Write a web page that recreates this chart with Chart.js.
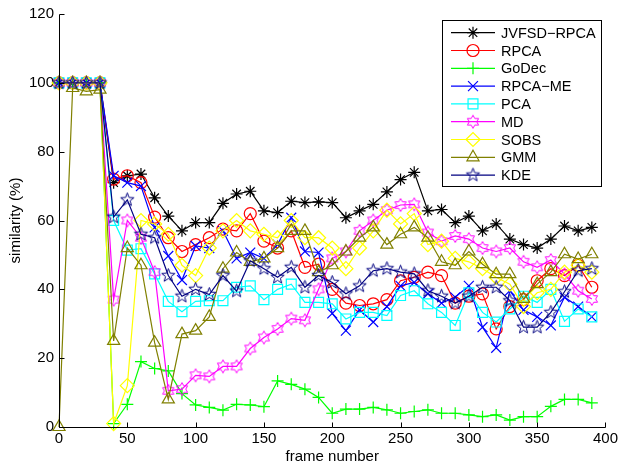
<!DOCTYPE html>
<html>
<head>
<meta charset="utf-8">
<script src="https://cdn.jsdelivr.net/npm/chart.js@4/dist/chart.umd.min.js"></script>
<style>
    body { margin: 0; background: #fff; }
    canvas { display: block; }
</style>
</head>
<body>
<canvas id="canvasSimilarita" width="621" height="466"></canvas>
<script>
const frame = [0, 10, 20, 30, 40, 50, 60, 70, 80, 90,
    100, 110, 120, 130, 140, 150, 160, 170, 180, 190,
    200, 210, 220, 230, 240, 250, 260, 270, 280, 290,
    300, 310, 320, 330, 340, 350, 360, 370, 380, 390]

const jvfsd = [100, 100, 100, 100, 71, 73, 73.5, 66.6, 61.3, 57,
    59.4, 59.4, 65, 67.7, 68.5, 62.8, 62.3, 65.6, 65.2, 65.4,
    65.2, 60.8, 62.8, 64.7, 68.3, 71.9, 74, 62.8, 63.2, 59.4,
    61.3, 57, 59, 54.6, 53, 52, 54.6, 58.4, 57, 58]
const rpca = [100, 100, 100, 100, 72, 73, 71, 61, 55, 51,
    53, 55, 57.5, 57, 62, 54, 52, 57, 46.4, 47.3,
    40, 36, 35.3, 35.8, 37, 42.5, 43.5, 45, 44, 36,
    38, 38.7, 28.5, 35, 37, 42.5, 46, 44, 47, 40.6]
const godec = [100, 100, 100, 100, 1, 6.6, 19, 17, 16.3, 9.7,
    6.4, 5.7, 4.9, 6.6, 6.4, 5.9, 13.4, 12.4, 11, 8.6,
    4, 5.2, 5.2, 5.7, 5, 4, 4.5, 5, 4, 4,
    3.5, 3, 3.5, 2, 3, 3, 6, 8, 8, 7]
const rpcaMe = [100, 100, 100, 100, 73, 71, 70, 58, 49.7, 42.7,
    52.6, 52, 57, 49, 50.7, 49, 53, 60.8, 51, 50.7,
    33, 28, 34, 30.5, 35, 41, 42, 38.7, 36, 37.7,
    41, 29, 23, 39.6, 34, 32, 29.5, 37.7, 35, 32]
const pca = [100, 100, 100, 100, 60, 51.4, 51.8, 44.5, 36.5, 33.5,
    36.5, 36.7, 36.7, 40.6, 41, 37, 40, 41.5, 36.2, 36.2,
    35.8, 31.4, 33.3, 33.3, 32.4, 38.2, 39.6, 35.8, 33.3, 29.5,
    39, 33.3, 30.5, 34.3, 38, 36.2, 40, 30.7, 34.3, 32]
const md = [100, 100, 100, 100, 37, 60, 55, 45, 10.5, 11,
    15, 14.7, 17.6, 17.6, 22.8, 26, 28.5, 31.5, 31, 40,
    49, 51, 57, 60, 63, 64.5, 64.7, 56.5, 54, 55.5,
    54.6, 52, 51, 52, 48, 46.4, 48.5, 44.4, 39.6, 37.2]
const sobs = [100, 100, 100, 100, 1, 12, 60, 59, 56, 47,
    44, 52, 57, 60, 57, 56, 55, 60, 55, 55,
    52, 46, 52, 57, 63, 59, 62, 53, 54, 49,
    48, 46, 43.5, 41.5, 35, 39, 40, 45, 47, 45]
const gmm = [0, 98.5, 97.5, 98, 25, 52, 47, 24.5, 8, 27,
    28, 32, 46, 50.7, 48, 49, 52, 57, 57, 45,
    47, 51, 55, 58, 53, 56, 58, 55, 48, 47,
    51, 47.3, 44.4, 44.4, 37.2, 41.5, 45, 50.2, 48.8, 50.2]
const kde = [100, 100, 100, 100, 61, 66, 56, 55, 44, 38,
    40, 38.5, 44, 39.5, 48.3, 46, 43.5, 46.4, 40.6, 44,
    42, 38.7, 41, 45.4, 46, 45, 44.5, 39.6, 38, 36,
    38, 40.6, 40.6, 36.7, 29, 29, 33.3, 39.3, 45.4, 46]

const etichette = ['JVFSD\u2212RPCA', 'RPCA', 'GoDec', 'RPCA\u2212ME', 'PCA', 'MD', 'SOBS', 'GMM', 'KDE']
const xTicks = [0, 50, 100, 150, 200, 250, 300, 350, 400]
const yTicks = [0, 20, 40, 60, 80, 100, 120]

const FONT = '"Liberation Sans", Arial, sans-serif'

// marker a stella (esagramma / pentagramma) disegnati su un canvas
function creaStella(punte, rapporto, colore, r) {
    let c = document.createElement('canvas')
    let lato = Math.ceil(r * 2 + 3)
    c.width = lato
    c.height = lato
    let ctx = c.getContext('2d')
    ctx.strokeStyle = colore
    ctx.lineWidth = 1
    ctx.beginPath()
    for (let k = 0; k < punte * 2; k++) {
        let raggio = k % 2 == 0 ? r : r * rapporto
        let ang = -Math.PI / 2 + k * Math.PI / punte
        let px = lato / 2 + raggio * Math.cos(ang)
        let py = lato / 2 + raggio * Math.sin(ang)
        if (k == 0) ctx.moveTo(px, py)
        else ctx.lineTo(px, py)
    }
    ctx.closePath()
    ctx.stroke()
    return c
}

const serie = [
    { dati: jvfsd, colore: '#000000', stile: 'star', r: 6 },
    { dati: rpca, colore: '#ff0000', stile: 'circle', r: 6 },
    { dati: godec, colore: '#00ff00', stile: 'cross', r: 6 },
    { dati: rpcaMe, colore: '#0000ff', stile: 'crossRot', r: 7 },
    { dati: pca, colore: '#00ffff', stile: 'rect', r: 7 },
    { dati: md, colore: '#ff00ff', stile: creaStella(6, 0.577, '#ff00ff', 6.5), r: 6.5 },
    { dati: sobs, colore: '#ffff00', stile: 'rectRot', r: 7 },
    { dati: gmm, colore: '#808000', stile: 'triangle', r: 7 },
    { dati: kde, colore: '#000080', stile: creaStella(5, 0.42, '#000080', 7), r: 7 },
]

const datasets = serie.map((s, i) => ({
    label: etichette[i],
    data: frame.map((f, j) => ({ x: f, y: s.dati[j] })),
    borderColor: s.colore,
    borderWidth: 1.2,
    pointStyle: s.stile,
    pointRadius: s.r,
    pointBorderColor: s.colore,
    pointBackgroundColor: 'rgba(0,0,0,0)',
    pointBorderWidth: 1.2,
    order: serie.length - i,
    clip: false,
    tension: 0,
}))

// assi sinistro e inferiore con tacche interne, legenda stile matlab
const pluginAssi = {
    id: 'assi',
    afterDraw(chart) {
        let ctx = chart.ctx
        let a = chart.chartArea
        let sx = chart.scales.x
        let sy = chart.scales.y
        let L = Math.round(a.left) + 0.5
        let R = Math.round(a.right) + 0.5
        let T = Math.round(a.top) + 0.5
        let B = Math.round(a.bottom) + 0.5
        ctx.save()
        ctx.strokeStyle = '#000'
        ctx.lineWidth = 1
        ctx.beginPath()
        ctx.moveTo(L, T); ctx.lineTo(L, B); ctx.lineTo(R, B)
        xTicks.forEach(v => {
            let p = Math.round(sx.getPixelForValue(v)) + 0.5
            ctx.moveTo(p, B); ctx.lineTo(p, B - 5)
        })
        yTicks.forEach(v => {
            let p = Math.round(sy.getPixelForValue(v)) + 0.5
            ctx.moveTo(L, p); ctx.lineTo(L + 5, p)
        })
        ctx.stroke()

        // legenda
        let bx = 442.5, by = 20.5, bw = 159, bh = 166
        ctx.fillStyle = '#fff'
        ctx.fillRect(bx, by, bw, bh)
        ctx.strokeRect(bx, by, bw, bh)
        ctx.font = '14.5px ' + FONT
        ctx.textBaseline = 'middle'
        ctx.textAlign = 'left'
        chart.data.datasets.forEach((d, i) => {
            let y = 32.7 + i * 17.8
            ctx.strokeStyle = d.borderColor
            ctx.lineWidth = 1.2
            ctx.beginPath()
            ctx.moveTo(451, y); ctx.lineTo(495, y)
            ctx.stroke()
            ctx.fillStyle = 'rgba(0,0,0,0)'
            Chart.helpers.drawPoint(ctx, {
                pointStyle: d.pointStyle,
                radius: d.pointRadius,
                rotation: 0,
                borderWidth: 1.2
            }, 473, y)
            ctx.fillStyle = '#000'
            ctx.fillText(d.label, 501, y + 1)
        })
        ctx.restore()
    }
}

new Chart(
    document.getElementById('canvasSimilarita'),
    {
        type: 'line',
        data: { datasets: datasets },
        plugins: [pluginAssi],
        options: {
            responsive: false,
            animation: false,
            devicePixelRatio: 1,
            layout: { padding: { top: 12, right: 13, left: 0, bottom: 0 } },
            plugins: {
                legend: { display: false },
                tooltip: { enabled: false },
            },
            scales: {
                x: {
                    type: 'linear',
                    min: 0,
                    max: 400,
                    afterBuildTicks: s => { s.ticks = xTicks.map(v => ({ value: v })) },
                    afterFit: s => { s.height = 39 },
                    grid: { display: false, drawTicks: false },
                    border: { display: false },
                    ticks: { color: '#000', padding: 3, maxRotation: 0, font: { family: FONT, size: 15 } },
                    title: {
                        display: true,
                        text: 'frame number',
                        color: '#000',
                        padding: { top: 0, bottom: 0 },
                        font: { family: FONT, size: 15 }
                    }
                },
                y: {
                    type: 'linear',
                    min: 0,
                    max: 120,
                    afterBuildTicks: s => { s.ticks = yTicks.map(v => ({ value: v })) },
                    afterFit: s => { s.width = 59 },
                    grid: { display: false, drawTicks: false },
                    border: { display: false },
                    ticks: { color: '#000', padding: 5, font: { family: FONT, size: 15 } },
                    title: {
                        display: true,
                        text: 'similarity (%)',
                        color: '#000',
                        padding: { top: 7, bottom: 0 },
                        font: { family: FONT, size: 15 }
                    }
                }
            }
        }
    }
)
</script>
</body>
</html>
